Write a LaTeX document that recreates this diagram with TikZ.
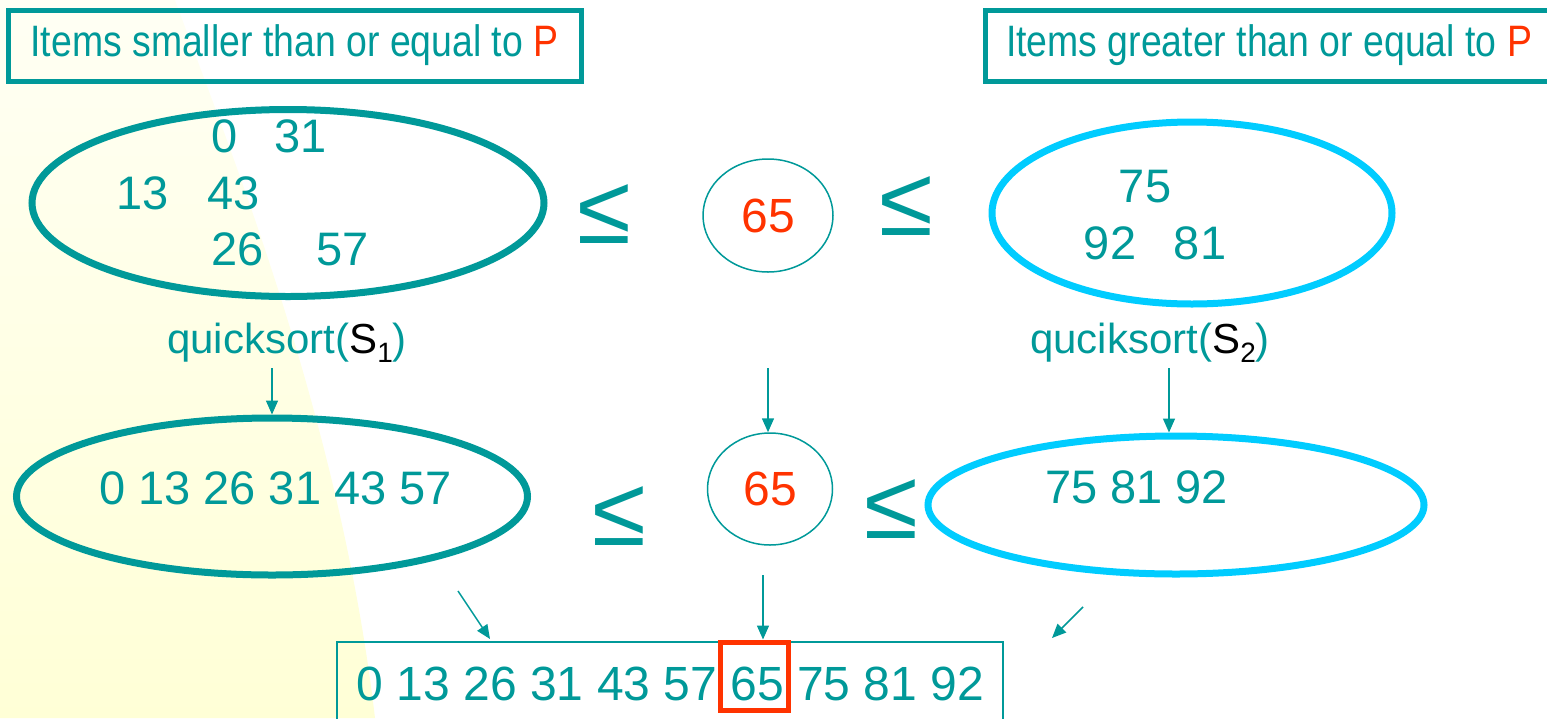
\documentclass[tikz,border=0pt]{standalone}
\usepackage{fontspec}
\setmainfont{Liberation Sans}
\newfontfamily\narrowfont[FakeStretch=0.85]{Liberation Sans}
\usetikzlibrary{shapes.geometric,arrows.meta}
\definecolor{tealc}{HTML}{009999}
\definecolor{cyanc}{HTML}{00CCFF}
\definecolor{redc}{HTML}{FF3300}
\definecolor{bgtop}{HTML}{FFFFF4}
\definecolor{bgbot}{HTML}{FFFFD6}
\tikzset{
  hdr/.style={draw=tealc, line width=5pt, rectangle, inner sep=0pt, text=tealc,
    font=\narrowfont\fontsize{44}{50}\selectfont},
  bigset/.style={ellipse, draw=tealc, line width=7pt, inner sep=0pt},
  bigsetc/.style={ellipse, draw=cyanc, line width=7pt, inner sep=0pt},
  pivot/.style={ellipse, draw=tealc, line width=1.5pt, inner sep=0pt, text=redc,
    font=\fontsize{48}{56}\selectfont},
  num/.style={text=tealc, anchor=base, inner sep=0pt, font=\fontsize{47}{56}\selectfont},
  lbl/.style={text=tealc, anchor=base, inner sep=0pt, font=\fontsize{42}{50}\selectfont},
  leq/.style={text=tealc, anchor=base, inner sep=0pt, font=\fontsize{98}{100}\selectfont},
  arr/.style={draw=tealc, line width=1.5pt, -{Triangle[length=14pt,width=12pt]}},
}
\newcommand{\subone}[1]{\raisebox{-0.22em}{\fontsize{28}{30}\selectfont #1}}
\begin{document}
\begin{tikzpicture}[x=1pt,y=-1pt]
\useasboundingbox (0,0) rectangle (1547,718);
% background
\shade[top color=bgtop, bottom color=bgbot] (0,0) -- (175,0) .. controls (230,150) and (340,420) .. (375,718) -- (0,718) -- cycle;

% headers
\node[hdr, minimum width=573pt, minimum height=71pt] (hl) at (294.5,45.5) {Items smaller than or equal to \textcolor{redc}{P}};
\node[hdr, minimum width=568pt, minimum height=71pt] (hr) at (1269,45.5) {Items greater than or equal to \textcolor{redc}{P}};

% top row
\node[bigset, minimum width=512pt, minimum height=187pt] (s1) at (288,203) {};
\node[num] (n0) at (224.5,152) {0};
\node[num] (n31) at (301,152) {31};
\node[num] (n13) at (143,209) {13};
\node[num] (n43) at (234,209) {43};
\node[num] (n26) at (237.5,265) {26};
\node[num] (n57) at (343,265) {57};

\node[leq] (le1) at (604.5,243) {≤};
\node[pivot, minimum width=130pt, minimum height=113pt] (p1) at (768,215.5) {65};
\node[leq] (le2) at (906.5,235) {≤};

\node[bigsetc, minimum width=400pt, minimum height=182pt] (s2) at (1192,213) {};
\node[num] (n75) at (1145,202) {75};
\node[num] (n92) at (1110,259) {92};
\node[num] (n81) at (1200,259) {81};

% labels
\node[lbl] (q1) at (287,353) {quicksort(\textcolor{black}{S\subone{1}})};
\node[lbl] (q2) at (1150,353) {quciksort(\textcolor{black}{S\subone{2}})};

% middle row
\node[bigset, minimum width=511pt, minimum height=157pt] (r1) at (272,496.5) {};
\node[num] (t1) at (275.5,504) {0 13 26 31 43 57};
\node[leq] (le3) at (619.5,545) {≤};
\node[pivot, minimum width=125pt, minimum height=112pt] (p2) at (770,489) {65};
\node[leq] (le4) at (891.5,538) {≤};
\node[bigsetc, minimum width=496pt, minimum height=138pt] (r2) at (1176,505) {};
\node[num] (t2) at (1136.5,503) {75 81 92};

% arrows top -> middle
\coordinate (a1s) at (272,368);
\coordinate (a2s) at (768,368);
\coordinate (a3s) at (1169,368);
\draw[arr] (a1s) -- (r1.north -| a1s);
\draw[arr] (a2s) -- (p2.north -| a2s);
\draw[arr] (a3s) -- (r2.north -| a3s);

% bottom result
\node[draw=tealc, line width=1.5pt, rectangle, minimum width=666pt, minimum height=100pt, inner sep=0pt] (res) at (670,692) {};
\node[num, font=\fontsize{48}{56}\selectfont] (t3) at (670.5,700) {0 13 26 31 43 57 65 75 81 92};
\node[draw=redc, line width=5pt, rectangle, minimum width=68pt, minimum height=68pt, inner sep=0pt] (pb) at (754,676) {};

\coordinate (b1s) at (458,591);
\coordinate (b1e) at (490,639);
\coordinate (b2s) at (763,575);
\coordinate (b3s) at (1083,607);
\coordinate (b3e) at (1052,638);
\draw[arr] (b1s) -- (b1e);
\draw[arr] (b2s) -- (pb.north -| b2s);
\draw[arr] (b3s) -- (b3e);
\end{tikzpicture}
\end{document}
